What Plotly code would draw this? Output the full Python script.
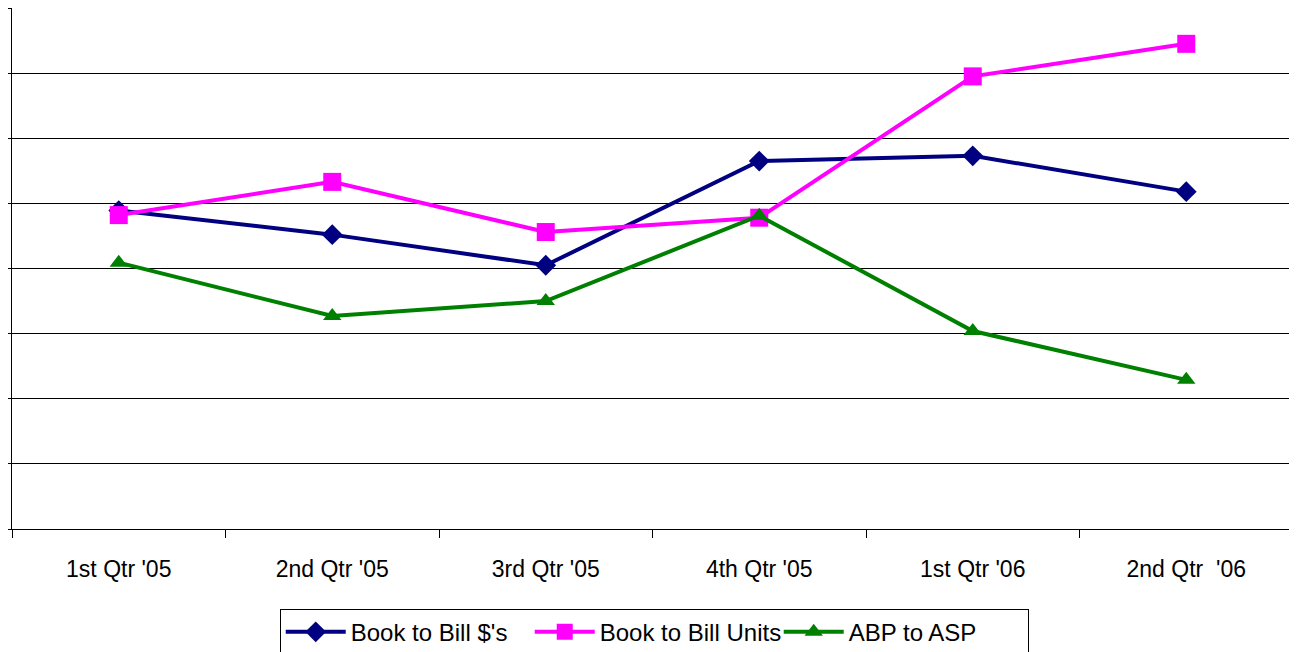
import plotly.graph_objects as go

quarters = ["1st Qtr '05", "2nd Qtr '05", "3rd Qtr '05", "4th Qtr '05", "1st Qtr '06", "2nd Qtr  '06"]
book_bill_dollars = [4.89, 4.52, 4.05, 5.65, 5.73, 5.18]
book_bill_units = [4.82, 5.33, 4.56, 4.78, 6.95, 7.45]
abp_to_asp = [4.09, 3.27, 3.50, 4.81, 3.04, 2.29]

fig = go.Figure()
fig.add_trace(go.Scatter(x=quarters, y=book_bill_dollars, name="Book to Bill $'s", mode="lines+markers",
                         line=dict(color="#000080", width=4), marker=dict(symbol="diamond", size=16)))
fig.add_trace(go.Scatter(x=quarters, y=book_bill_units, name="Book to Bill Units", mode="lines+markers",
                         line=dict(color="#FF00FF", width=4), marker=dict(symbol="square", size=18)))
fig.add_trace(go.Scatter(x=quarters, y=abp_to_asp, name="ABP to ASP", mode="lines+markers",
                         line=dict(color="#008000", width=4), marker=dict(symbol="triangle-up", size=16)))

fig.update_layout(
    width=1289, height=644, margin=dict(l=4, r=4, t=0, b=123, autoexpand=False),
    plot_bgcolor="white", paper_bgcolor="white",
    font=dict(family="Liberation Sans, Arial", size=23, color="black"),
    xaxis=dict(range=[-0.5, 5.5], showline=True, linecolor="black", linewidth=1,
               ticks="outside", tickson="boundaries", ticklen=8, tickcolor="black",
               showgrid=False, tickfont=dict(size=23), ticklabelstandoff=19),
    yaxis=dict(range=[0, 8], dtick=1, showline=True, linecolor="black", linewidth=1,
               ticks="outside", ticklen=6, tickcolor="black", showticklabels=False,
               showgrid=True, gridcolor="black", gridwidth=1, zeroline=False),
    legend=dict(orientation="h", x=0.209, y=-0.153, xanchor="left", yanchor="top",
                bordercolor="black", borderwidth=1, font=dict(size=24), itemwidth=60,
                tracegroupgap=0, entrywidth=174, entrywidthmode="pixels"),
    showlegend=True,
)

fig.write_html("out.html")
